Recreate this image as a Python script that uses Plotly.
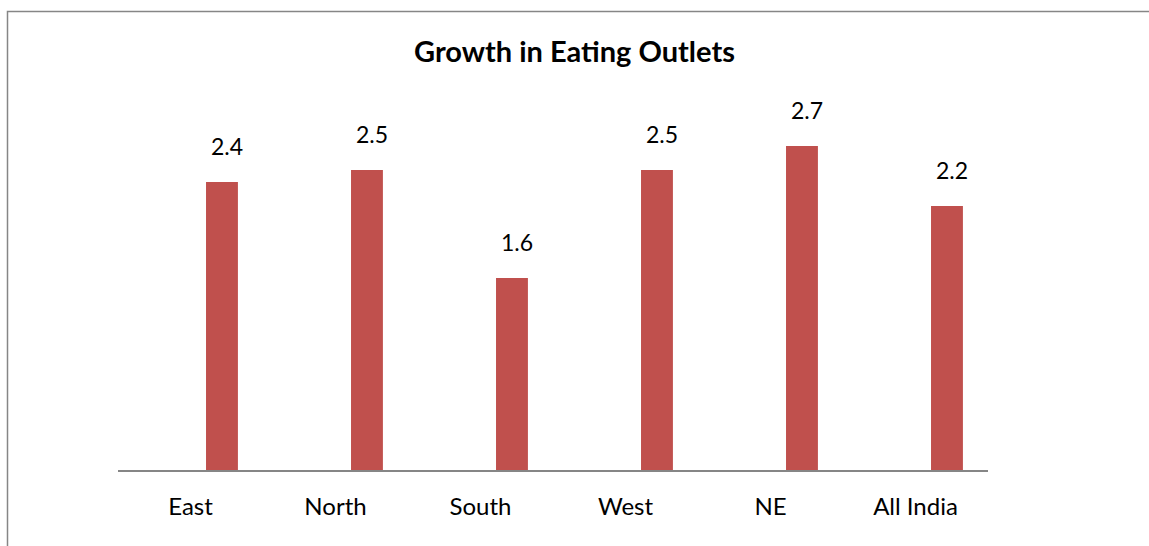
import plotly.graph_objects as go

# Growth in eating outlets by region
regions = ["East", "North", "South", "West", "NE", "All India"]
growth = [2.4, 2.5, 1.6, 2.5, 2.7, 2.2]
value_labels = ["2.4", "2.5", "1.6", "2.5", "2.7", "2.2"]

BAR_COLOR = "#C0504D"
LINE_GRAY = "#868686"
FONT = "Lato, 'Open Sans', sans-serif"

W, H = 1149, 546
L, R, T, B = 118, 161, 110, 76
plot_w = W - L - R
plot_h = H - T - B

fig = go.Figure()
fig.add_trace(go.Bar(
    x=regions,
    y=growth,
    marker=dict(color=BAR_COLOR, line=dict(width=0)),
    width=0.22,
    offset=0.107,
    showlegend=False,
    hoverinfo="x+y",
))

# value labels above each bar
for r, v, t in zip(regions, growth, value_labels):
    fig.add_annotation(
        x=r, y=v, xref="x", yref="y",
        text=t, showarrow=False,
        xanchor="center", yanchor="bottom",
        xshift=36, yshift=20,
        font=dict(family=FONT, size=23, color="#000000"),
    )

# outer chart frame
def px_to_paper_x(px):
    return (px - L) / plot_w

def px_to_paper_y(py):
    return (H - B - py) / plot_h

fig.add_shape(
    type="rect", xref="paper", yref="paper",
    x0=px_to_paper_x(7.5), x1=px_to_paper_x(W + 20),
    y0=px_to_paper_y(11.5), y1=px_to_paper_y(H + 20),
    line=dict(color=LINE_GRAY, width=1.5),
    fillcolor="rgba(0,0,0,0)",
    layer="above",
)

fig.update_layout(
    width=W, height=H,
    margin=dict(l=L, r=R, t=T, b=B, pad=0),
    paper_bgcolor="white",
    plot_bgcolor="white",
    title=dict(
        text="<b>Growth in Eating Outlets</b>",
        x=0.5, xref="container", xanchor="center",
        y=1 - 52 / H, yref="container", yanchor="middle",
        font=dict(family=FONT, size=29, color="#000000"),
    ),
    xaxis=dict(
        type="category",
        showgrid=False,
        showline=True, linecolor=LINE_GRAY, linewidth=1.5,
        ticks="", ticklabelstandoff=14,
        tickfont=dict(family=FONT, size=24, color="#000000"),
        zeroline=False,
        fixedrange=True,
    ),
    yaxis=dict(
        range=[0, 3],
        visible=False,
        showgrid=False,
        zeroline=False,
        fixedrange=True,
    ),
    font=dict(family=FONT),
)

fig.write_html("out.html")
